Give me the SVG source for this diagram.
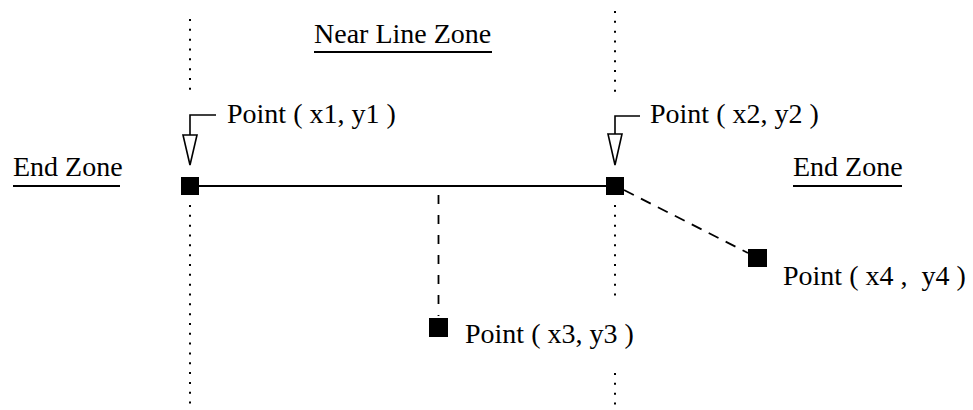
<svg xmlns="http://www.w3.org/2000/svg" width="973" height="410" viewBox="0 0 973 410">
<style>
text{font-family:"Liberation Serif","Times New Roman",serif;font-size:28px;fill:#000}
.dot{stroke:#000;stroke-width:2;stroke-dasharray:2 7.83;fill:none}
.ul{stroke:#000;stroke-width:2}
.pt{fill:#000}
.dash{stroke:#000;stroke-width:1.8;fill:none}
.ptr{stroke:#000;stroke-width:1.6;fill:none}
.tri{stroke:#000;stroke-width:1.6;fill:#fff}
</style>
<rect width="973" height="410" fill="#fff"/>
<g id="zone-borders">
<line class="dot" x1="190" y1="19" x2="190" y2="92"/>
<line class="dot" x1="190" y1="205" x2="190" y2="405"/>
<line class="dot" x1="615" y1="11" x2="615" y2="93"/>
<line class="dot" x1="615" y1="205" x2="615" y2="297"/>
<line class="dot" x1="615" y1="373" x2="615" y2="406"/>
</g>
<g id="labels">
<text x="314" y="43">Near Line Zone</text>
<line class="ul" x1="314" y1="52" x2="492" y2="52"/>
<text x="13" y="176">End Zone</text>
<line class="ul" x1="13" y1="186" x2="120" y2="186"/>
<text x="793" y="176">End Zone</text>
<line class="ul" x1="793" y1="186" x2="902" y2="186"/>
</g>
<g id="connectors">
<line stroke="#000" stroke-width="2" x1="199" y1="186" x2="606" y2="186"/>
<line class="dash" x1="438.5" y1="195" x2="438.5" y2="316" stroke-dasharray="9 11"/>
<line class="dash" x1="624" y1="190" x2="748" y2="253" stroke-dasharray="11 8"/>
<polyline class="ptr" points="216,115 190,115 190,135"/>
<polygon class="tri" points="183,135 197,135 190,165"/>
<polyline class="ptr" points="640,116 615,116 615,134"/>
<polygon class="tri" points="608,134 622,134 615,165"/>
</g>
<g id="p1">
<rect class="pt" x="181" y="177" width="18" height="18"/>
<text x="227" y="123">Point ( x1, y1 )</text>
</g>
<g id="p2">
<rect class="pt" x="606" y="177" width="18" height="18"/>
<text x="650" y="123">Point ( x2, y2 )</text>
</g>
<g id="p3">
<rect class="pt" x="429" y="318" width="19" height="19"/>
<text x="465" y="343">Point ( x3, y3 )</text>
</g>
<g id="p4">
<rect class="pt" x="748" y="249" width="19" height="18"/>
<text x="783" y="285" style="white-space:pre">Point ( x4 ,  y4 )</text>
</g>
</svg>
